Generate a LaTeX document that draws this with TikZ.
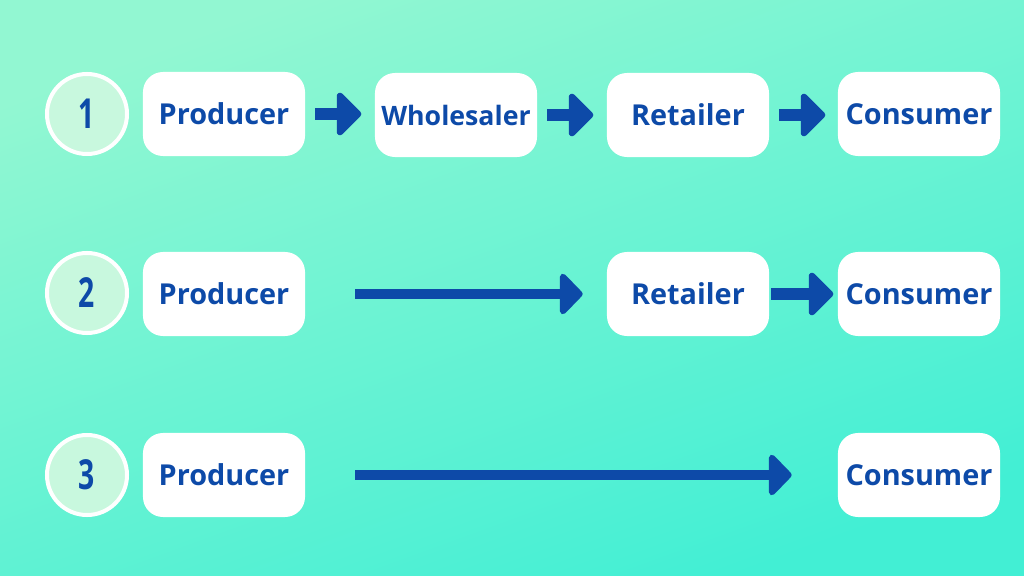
\documentclass[tikz,border=0pt]{standalone}
\usepackage{fontspec}
\setmainfont{Open Sans}
\usetikzlibrary{arrows.meta}
\definecolor{flowblue}{HTML}{0D4AA8}
\definecolor{mintfill}{HTML}{C8F8DE}
\definecolor{bgtop}{HTML}{92F7D2}
\definecolor{bgbot}{HTML}{42EFD4}
\newcommand{\stepdigit}[1]{\scalebox{0.72}[1.05]{#1}}
\begin{document}
\begin{tikzpicture}[
  x=0.025cm, y=-0.025cm,
  stagebox/.style={fill=white, rounded corners=0.5cm, minimum width=4.05cm, minimum height=2.1cm,
    align=center, text=flowblue, font=\bfseries\fontsize{20.5}{24}\selectfont},
  stepnum/.style={circle, draw=white, line width=0.1cm, fill=mintfill, minimum size=2.0cm,
    text=flowblue, font=\bfseries\fontsize{28}{32}\selectfont},
  flow/.style={draw=flowblue, line width=0.3cm, -{Triangle[length=0.65cm, width=1.25cm, round]}},
  longflow/.style={draw=flowblue, line width=0.25cm, -{Triangle[length=0.6cm, width=1.2cm, round]}}
]
\shade[top color=bgtop, bottom color=bgbot, shading angle=20] (0,0) rectangle (1024,576);
\useasboundingbox (0,0) rectangle (1024,576);

% row 1
\node[stepnum] (n1) at (87,114) {\stepdigit{1}};
\node[stagebox] (prod1) at (224,114) {Producer};
\node[stagebox, font=\bfseries\fontsize{19}{22}\selectfont] (whole1) at (456,115) {Wholesaler};
\node[stagebox] (ret1) at (688,115) {Retailer};
\node[stagebox] (cons1) at (919,114) {Consumer};
\draw[flow] ([xshift=0.25cm]prod1.east) -- ([xshift=1.4cm]prod1.east);
\draw[flow] ([xshift=0.25cm]whole1.east) -- ([xshift=1.4cm]whole1.east);
\draw[flow] ([xshift=0.25cm]ret1.east) -- ([xshift=1.4cm]ret1.east);

% row 2
\node[stepnum] (n2) at (87,293) {\stepdigit{2}};
\node[stagebox] (prod2) at (224,294) {Producer};
\node[stagebox] (ret2) at (688,294) {Retailer};
\node[stagebox] (cons2) at (919,294) {Consumer};
\draw[longflow] ([xshift=1.25cm]prod2.east) -- ([xshift=-0.6cm]ret2.west);
\draw[flow] ([xshift=0.05cm]ret2.east) -- ([xshift=1.6cm]ret2.east);

% row 3
\node[stepnum] (n3) at (87,475) {\stepdigit{3}};
\node[stagebox] (prod3) at (224,475) {Producer};
\node[stagebox] (cons3) at (919,475) {Consumer};
\draw[longflow] ([xshift=1.25cm]prod3.east) -- ([xshift=-1.15cm]cons3.west);
\end{tikzpicture}
\end{document}
